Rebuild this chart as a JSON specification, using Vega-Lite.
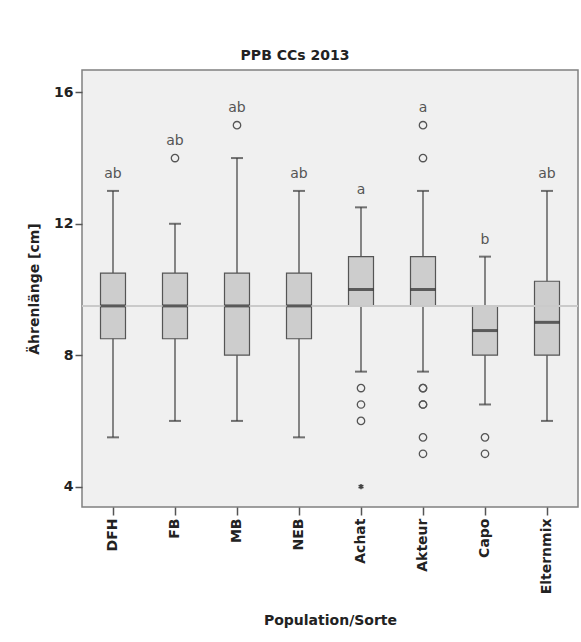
{
  "$schema": "https://vega.github.io/schema/vega-lite/v6.json",
  "width": 496,
  "height": 437,
  "autosize": {"type": "none"},
  "padding": {"left": 82, "top": 70, "right": 3, "bottom": 135},
  "background": "white",
  "title": {
    "text": "PPB CCs 2013",
    "font": "DejaVu Sans",
    "fontSize": 14,
    "fontWeight": "bold",
    "color": "#222",
    "anchor": "middle",
    "dx": -35,
    "offset": 7
  },
  "datasets": {
    "boxes": [
      {"g": "DFH", "lower": 5.5, "q1": 8.5, "median": 9.5, "q3": 10.5, "upper": 13, "max": 13, "sig": "ab"},
      {"g": "FB", "lower": 6, "q1": 8.5, "median": 9.5, "q3": 10.5, "upper": 12, "max": 14, "sig": "ab"},
      {"g": "MB", "lower": 6, "q1": 8, "median": 9.5, "q3": 10.5, "upper": 14, "max": 15, "sig": "ab"},
      {"g": "NEB", "lower": 5.5, "q1": 8.5, "median": 9.5, "q3": 10.5, "upper": 13, "max": 13, "sig": "ab"},
      {"g": "Achat", "lower": 7.5, "q1": 9.5, "median": 10, "q3": 11, "upper": 12.5, "max": 12.5, "sig": "a"},
      {"g": "Akteur", "lower": 7.5, "q1": 9.5, "median": 10, "q3": 11, "upper": 13, "max": 15, "sig": "a"},
      {"g": "Capo", "lower": 6.5, "q1": 8, "median": 8.75, "q3": 9.5, "upper": 11, "max": 11, "sig": "b"},
      {"g": "Elternmix", "lower": 6, "q1": 8, "median": 9, "q3": 10.25, "upper": 13, "max": 13, "sig": "ab"}
    ],
    "outliers": [
      {"g": "FB", "value": 14},
      {"g": "MB", "value": 15},
      {"g": "Achat", "value": 7},
      {"g": "Achat", "value": 6.5},
      {"g": "Achat", "value": 6},
      {"g": "Akteur", "value": 15},
      {"g": "Akteur", "value": 14},
      {"g": "Akteur", "value": 7},
      {"g": "Akteur", "value": 7},
      {"g": "Akteur", "value": 6.5},
      {"g": "Akteur", "value": 6.5},
      {"g": "Akteur", "value": 5.5},
      {"g": "Akteur", "value": 5},
      {"g": "Capo", "value": 5.5},
      {"g": "Capo", "value": 5}
    ],
    "extremes": [
      {"g": "Achat", "value": 4}
    ],
    "reference": [
      {"value": 9.5}
    ]
  },
  "layer": [
    {
      "data": {"name": "boxes"},
      "mark": {"type": "rule", "color": "#6a6a6a", "strokeWidth": 1.6},
      "encoding": {
        "x": {
          "field": "g",
          "type": "nominal",
          "sort": ["DFH", "FB", "MB", "NEB", "Achat", "Akteur", "Capo", "Elternmix"],
          "scale": {"domain": ["DFH", "FB", "MB", "NEB", "Achat", "Akteur", "Capo", "Elternmix"], "paddingInner": 0, "paddingOuter": 0},
          "axis": {
            "title": "Population/Sorte",
            "labelAngle": 270,
            "labelFont": "DejaVu Sans",
            "labelFontWeight": "bold",
            "labelFontSize": 14,
            "labelColor": "#222",
            "labelPadding": 3,
            "tickSize": 8,
            "tickColor": "#555",
            "tickWidth": 1.5,
            "domain": false,
            "grid": false,
            "titleFont": "DejaVu Sans",
            "titleFontWeight": "bold",
            "titleFontSize": 14,
            "titleColor": "#222",
            "titlePadding": 20
          }
        },
        "y": {
          "field": "lower",
          "type": "quantitative",
          "scale": {"domain": [3.38, 16.68], "nice": false, "zero": false},
          "axis": {
            "title": "Ährenlänge [cm]",
            "values": [4, 8, 12, 16],
            "labelFont": "DejaVu Sans",
            "labelFontWeight": "bold",
            "labelFontSize": 14,
            "labelColor": "#222",
            "labelPadding": 2,
            "tickSize": 7,
            "tickColor": "#555",
            "tickWidth": 1.5,
            "domain": false,
            "grid": false,
            "titleFont": "DejaVu Sans",
            "titleFontWeight": "bold",
            "titleFontSize": 14,
            "titleColor": "#222",
            "titlePadding": 12
          }
        },
        "y2": {"field": "upper"}
      }
    },
    {
      "data": {"name": "boxes"},
      "mark": {"type": "bar", "size": 25, "fill": "#cdcdcd", "stroke": "#555", "strokeWidth": 1.2},
      "encoding": {
        "x": {"field": "g", "type": "nominal"},
        "y": {"field": "q1", "type": "quantitative"},
        "y2": {"field": "q3"}
      }
    },
    {
      "data": {"name": "reference"},
      "mark": {"type": "rule", "color": "#cacaca", "strokeWidth": 2},
      "encoding": {"y": {"field": "value", "type": "quantitative"}}
    },
    {
      "data": {"name": "boxes"},
      "mark": {"type": "tick", "size": 25, "thickness": 3, "color": "#2a2a2a"},
      "encoding": {
        "x": {"field": "g", "type": "nominal"},
        "y": {"field": "median", "type": "quantitative"}
      }
    },
    {
      "data": {"name": "boxes"},
      "mark": {"type": "tick", "size": 12, "thickness": 2, "color": "#3a3a3a"},
      "encoding": {
        "x": {"field": "g", "type": "nominal"},
        "y": {"field": "lower", "type": "quantitative"}
      }
    },
    {
      "data": {"name": "boxes"},
      "mark": {"type": "tick", "size": 12, "thickness": 2, "color": "#3a3a3a"},
      "encoding": {
        "x": {"field": "g", "type": "nominal"},
        "y": {"field": "upper", "type": "quantitative"}
      }
    },
    {
      "data": {"name": "outliers"},
      "mark": {"type": "point", "shape": "circle", "filled": false, "size": 55, "stroke": "#555", "strokeWidth": 1.3, "opacity": 1},
      "encoding": {
        "x": {"field": "g", "type": "nominal"},
        "y": {"field": "value", "type": "quantitative"}
      }
    },
    {
      "data": {"name": "extremes"},
      "mark": {"type": "point", "shape": "M0,-1L0,1M-0.87,-0.5L0.87,0.5M-0.87,0.5L0.87,-0.5", "filled": false, "size": 30, "stroke": "#444", "strokeWidth": 1.5, "opacity": 1},
      "encoding": {
        "x": {"field": "g", "type": "nominal"},
        "y": {"field": "value", "type": "quantitative"}
      }
    },
    {
      "data": {"name": "boxes"},
      "mark": {"type": "text", "font": "DejaVu Sans", "fontSize": 14, "color": "#555", "baseline": "middle", "dy": -17},
      "encoding": {
        "x": {"field": "g", "type": "nominal"},
        "y": {"field": "max", "type": "quantitative"},
        "text": {"field": "sig", "type": "nominal"}
      }
    }
  ],
  "config": {
    "view": {"fill": "#f0f0f0", "stroke": "#808080", "strokeWidth": 1.5}
  }
}
